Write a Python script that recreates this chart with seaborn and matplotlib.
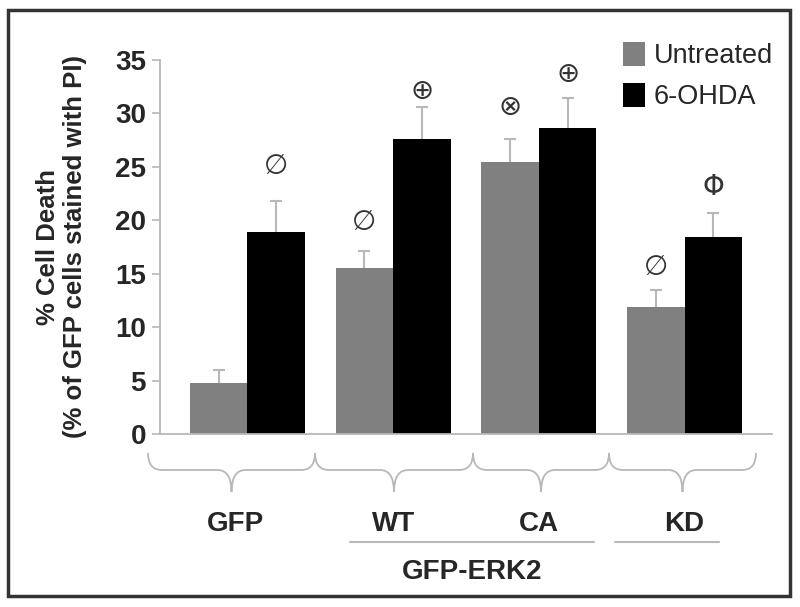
import numpy as np
import pandas as pd
import matplotlib.pyplot as plt
import seaborn as sns
from matplotlib.path import Path
from matplotlib.patches import PathPatch, Patch, Rectangle
from matplotlib.transforms import blended_transform_factory

# ─────────────────────────────────────────
# DATA
# ─────────────────────────────────────────
groups = ["GFP", "WT", "CA", "KD"]
treatments = ["Untreated", "6-OHDA"]

untreated = [4.8, 15.5, 25.5, 11.9]
untreated_err = [1.2, 1.6, 2.1, 1.6]
ohda = [18.9, 27.6, 28.6, 18.4]
ohda_err = [2.9, 3.0, 2.8, 2.3]

# significance marks and their heights
marks_untreated = ["", "\u2205", "\u2297", "\u2205"]
marks_untreated_y = [0, 19.8, 30.6, 15.6]
marks_ohda = ["\u2205", "\u2295", "\u2295", "\u03A6"]
marks_ohda_y = [25.1, 32.1, 33.7, 23.1]

yticks = [0, 5, 10, 15, 20, 25, 30, 35]

colors = ["#808080", "#000000"]
light = "#b8b8b8"

df = pd.DataFrame({
    "group": groups * 2,
    "treatment": [treatments[0]] * 4 + [treatments[1]] * 4,
    "value": untreated + ohda,
})

sns.set_style("white")
plt.rcParams["font.family"] = ["Liberation Sans", "DejaVu Sans"]

W, H = 800, 607
fig = plt.figure(figsize=(W / 100, H / 100), dpi=100)
ax = fig.add_axes([160 / W, 1 - 434 / H, 612 / W, 374 / H])

sns.barplot(
    data=df, x="group", y="value", hue="treatment",
    order=groups, hue_order=treatments,
    palette=colors, saturation=1, width=0.79,
    errorbar=None, legend=False, linewidth=0, ax=ax
)

# error bars (upper only) and marks, placed from the bars seaborn drew
errs = untreated_err + ohda_err
marks = marks_untreated + marks_ohda
marks_y = marks_untreated_y + marks_ohda_y
for bar, e, m, my in zip(ax.patches, errs, marks, marks_y):
    cx = bar.get_x() + bar.get_width() / 2
    top = bar.get_height()
    ax.plot([cx, cx], [top, top + e], color=light, lw=1.5, zorder=1,
            solid_capstyle="butt")
    ax.plot(cx, top + e, marker="_", ms=9, mew=1.5, color=light, zorder=1)
    if m:
        ax.text(cx, my, m, ha="center", va="center", fontsize=20,
                color="#333333", family=["DejaVu Sans"])

ax.set_xlim(-0.6, 3.6)
ax.set_ylim(0, 35)
ax.set_yticks(yticks)
ax.set_xticks([])
ax.set_xlabel("")
ax.set_ylabel("% Cell Death\n(% of GFP cells stained with PI)",
              fontsize=18.5, fontweight="bold", labelpad=20, linespacing=1.2)
for lab in ax.get_yticklabels():
    lab.set_fontweight("bold")
    lab.set_fontsize(20)
ax.tick_params(axis="y", length=6, width=1.2, color=light, pad=4, left=True)

sns.despine(ax=ax)
for s in ["left", "bottom"]:
    ax.spines[s].set_color(light)
    ax.spines[s].set_linewidth(1.3)

# legend
handles = [Patch(facecolor=c, edgecolor="none") for c in colors]
fig.legend(handles, treatments, loc="upper left",
           bbox_to_anchor=(604 / W, 1 - 23 / H), frameon=False,
           fontsize=19.5, handlelength=0.8, handleheight=1.0,
           handletextpad=0.35, labelspacing=0.5, borderpad=0.2)


# ─────────────────────────────────────────
# braces, group labels and underlines below the axis
# ─────────────────────────────────────────
def fx(px):
    return px / W


def fy(py):
    return 1 - py / H


def brace(x0, x1, ytop=453, ymid=470, ytip=492, r=14):
    xc = (x0 + x1) / 2
    pts = [(x0, ytop), (x0, ymid), (x0 + r, ymid),
           (xc - r, ymid),
           (xc, ymid), (xc, ytip),
           (xc, ymid), (xc + r, ymid),
           (x1 - r, ymid),
           (x1, ymid), (x1, ytop)]
    codes = [Path.MOVETO, Path.CURVE3, Path.CURVE3,
             Path.LINETO,
             Path.CURVE3, Path.CURVE3,
             Path.CURVE3, Path.CURVE3,
             Path.LINETO,
             Path.CURVE3, Path.CURVE3]
    verts = [(fx(x), fy(y)) for x, y in pts]
    fig.add_artist(PathPatch(Path(verts, codes), fill=False,
                             edgecolor=light, linewidth=1.3,
                             transform=fig.transFigure))


for a, b in [(148, 315), (315, 473), (473, 609), (609, 756)]:
    brace(a, b)

trans = blended_transform_factory(ax.transData, fig.transFigure)
for i, g in enumerate(groups):
    ax.text(i - (0.08 if i == 0 else 0), fy(524), g, transform=trans,
            ha="center", va="center",
            fontsize=20, fontweight="bold", clip_on=False)

for a, b in [(350, 594), (615, 719)]:
    fig.add_artist(plt.Line2D([fx(a), fx(b)], [fy(542), fy(542)],
                              color=light, linewidth=1.5))
fig.text(fx(472), fy(572), "GFP-ERK2", ha="center", va="center",
         fontsize=20, fontweight="bold")

# figure frame
fig.add_artist(Rectangle((fx(8), fy(596)), fx(790) - fx(8), fy(10) - fy(596),
                         fill=False, edgecolor="#333333", linewidth=2.5,
                         transform=fig.transFigure))

plt.savefig("out.png", dpi=100)
